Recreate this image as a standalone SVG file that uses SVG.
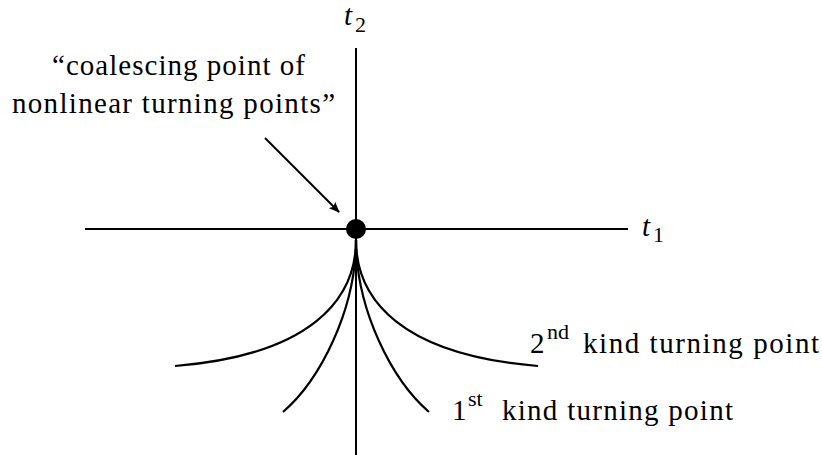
<svg xmlns="http://www.w3.org/2000/svg" width="822" height="455" viewBox="0 0 822 455">
<style>
.ax{stroke:#000;stroke-width:2;fill:none}
.cv{stroke:#000;stroke-width:2.2;fill:none}
text{font-family:'Liberation Serif','Times New Roman',serif;font-size:29px;fill:#000}
.it{font-style:italic}
.sub{font-size:22px}
</style>
<defs>
<marker id="ah" markerWidth="11" markerHeight="9" refX="10" refY="4.5" orient="auto" markerUnits="userSpaceOnUse">
<path d="M0,0 L11,4.5 L0,9 L2.5,4.5 Z" fill="#000"/>
</marker>
</defs>
<g id="connectors">
<line class="ax" x1="356" y1="48" x2="356" y2="455"/>
<line class="ax" x1="85" y1="229" x2="628" y2="229"/>
<line class="ax" x1="265" y1="138" x2="339" y2="212" marker-end="url(#ah)"/>
<path class="cv" d="M356,240 C356,300 310,355 175,366"/>
<path class="cv" d="M356,240 C356,300 402,355 538,366"/>
<path class="cv" d="M356,240 C356,310 320,380 283,412"/>
<path class="cv" d="M356,240 C356,310 392,380 429,412"/>
</g>
<g id="origin"><circle cx="356" cy="229" r="10" fill="#000"/></g>
<g id="t2-label"><text class="it" x="344" y="25">t</text><text class="sub" x="355" y="32">2</text></g>
<g id="t1-label"><text class="it" x="642" y="236">t</text><text class="sub" x="653" y="242">1</text></g>
<g id="coalescing-label">
<text x="52" y="75" textLength="253" lengthAdjust="spacing">“coalescing point of</text>
<text x="12" y="113" textLength="323" lengthAdjust="spacing">nonlinear turning points”</text>
</g>
<g id="second-kind">
<text x="530" y="353">2</text><text class="sub" x="547" y="339">nd</text>
<text x="583" y="353" textLength="236" lengthAdjust="spacing">kind turning point</text>
</g>
<g id="first-kind">
<text x="452" y="420">1</text><text class="sub" x="468" y="406">st</text>
<text x="502" y="420" textLength="231" lengthAdjust="spacing">kind turning point</text>
</g>
</svg>
